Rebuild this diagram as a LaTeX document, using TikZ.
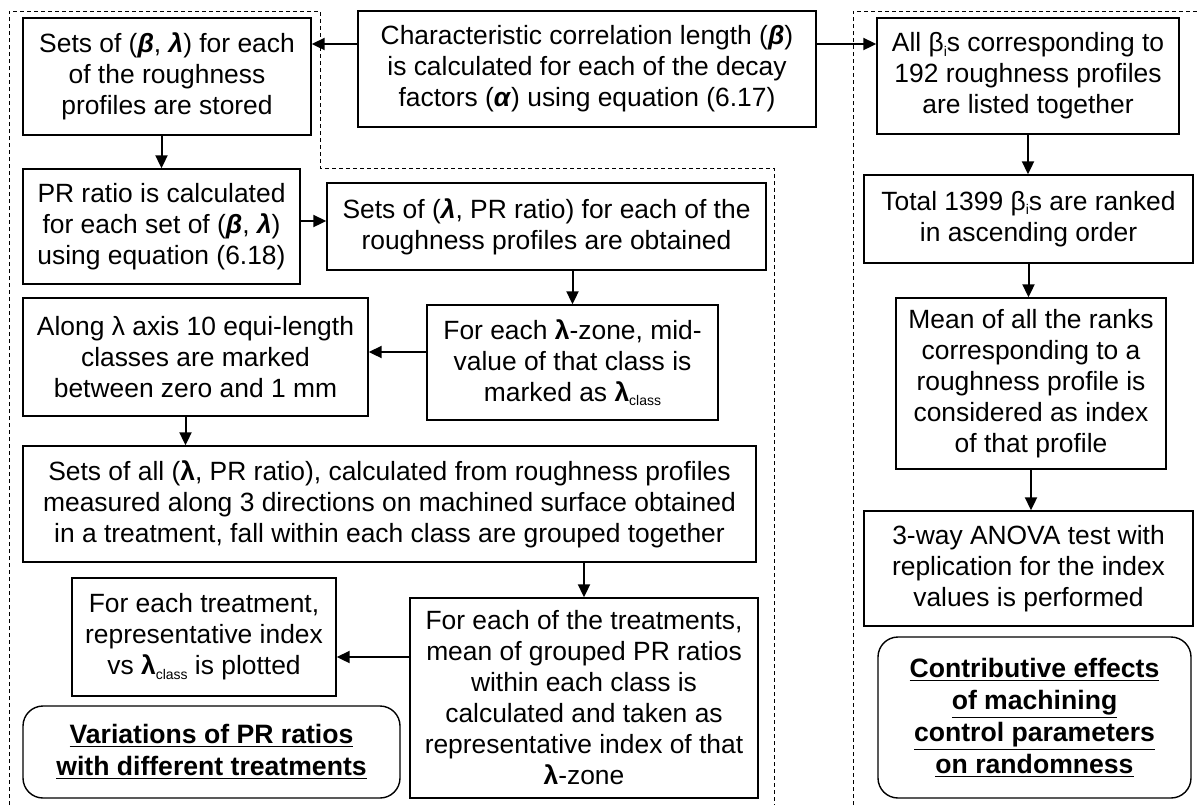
\documentclass[tikz,border=0pt]{standalone}
\usepackage{fontspec}
\setmainfont{Liberation Sans}
\usetikzlibrary{arrows.meta}

\newcommand{\bi}[1]{\textbf{\textit{#1}}}
\newcommand{\betai}{β\raisebox{-.3ex}{\scriptsize i}}
\newcommand{\lcls}{\textbf{λ}\raisebox{-.3ex}{\scriptsize class}}

\begin{document}
\begin{tikzpicture}[x=0.5pt, y=-0.5pt,
        box/.style={draw, line width=0.7pt, align=center, inner sep=2pt,
                font=\fontsize{13.2}{15.5}\selectfont},
        goal/.style={box, rounded corners=10pt, font=\fontsize{13.3}{16}\selectfont\bfseries},
        arr/.style={-{Triangle[length=6.5pt,width=6pt]}, line width=1pt},
        region/.style={line width=0.5pt, dash pattern=on 2pt off 1.5pt}]
        \useasboundingbox (0,0) rectangle (1198,805);

        \draw[region] (9,805) -- (9,11) -- (320,11) -- (320,168) -- (774,168) -- (774,805);
        \draw[region] (853,805) -- (853,11) -- (1198,11);

        \node[box, minimum width=229pt, minimum height=58pt] (corrlen) at (587,69)
                {Characteristic correlation length (\bi{β})\\ is calculated for each of the decay\\ factors (\bi{α}) using equation (6.17)};
        \node[box, minimum width=144pt, minimum height=58.5pt] (setsbl) at (167,76.5)
                {Sets of (\bi{β}, \bi{λ}) for each\\ of the roughness\\ profiles are stored};
        \node[box, minimum width=151pt, minimum height=58pt] (allbeta) at (1028,76)
                {All \betai s corresponding to\\ 192 roughness profiles\\ are listed together};
        \node[box, minimum width=138.5pt, minimum height=57.5pt] (prcalc) at (161.5,226.5)
                {PR ratio is calculated\\ for each set of (\bi{β}, \bi{λ})\\ using equation (6.18)};
        \node[box, minimum width=219.5pt, minimum height=43.5pt] (setslpr) at (546.5,226.5)
                {Sets of (\bi{λ}, PR ratio) for each of the\\ roughness profiles are obtained};
        \node[box, minimum width=145.5pt, minimum height=57.5pt] (zone) at (572.5,362.5)
                {For each \textbf{λ}-zone, mid-\\ value of that class is\\ marked as \lcls};
        \node[box, minimum width=172.5pt, minimum height=59pt] (along) at (195.5,357)
                {Along λ axis 10 equi-length\\ classes are marked\\ between zero and 1 mm};
        \node[box, minimum width=366.5pt, minimum height=58pt] (setsall) at (389.5,504)
                {Sets of all (\textbf{λ}, PR ratio), calculated from roughness profiles\\ measured along 3 directions on machined surface obtained\\ in a treatment, fall within each class are grouped together};
        \node[box, minimum width=174pt, minimum height=100pt] (treatmean) at (584,698)
                {For each of the treatments,\\ mean of grouped PR ratios\\ within each class is\\ calculated and taken as\\ representative index of that\\ \textbf{λ}-zone};
        \node[box, minimum width=132pt, minimum height=59pt] (plotidx) at (204,637)
                {For each treatment,\\ representative index\\ vs \lcls\ is plotted};
        \node[goal, minimum width=188.5pt, minimum height=46pt] (varpr) at (211.5,752)
                {\underline{Variations of PR ratios}\\ \underline{with different treatments}};

        \node[box, minimum width=164.5pt, minimum height=44pt] (rank) at (1028.5,219)
                {Total 1399 \betai s are ranked\\ in ascending order};
        \node[box, minimum width=135pt, minimum height=85.5pt] (meanrank) at (1031,383.5)
                {Mean of all the ranks\\ corresponding to a\\ roughness profile is\\ considered as index\\ of that profile};
        \node[box, minimum width=164.5pt, minimum height=57.5pt] (anova) at (1028.5,568.5)
                {3-way ANOVA test with\\ replication for the index\\ values is performed};
        \node[goal, minimum width=156.5pt, minimum height=80.5pt] (contrib) at (1034.5,717.5)
                {\underline{Contributive effects}\\ \underline{of machining}\\ \underline{control parameters}\\ \underline{on randomness}};

        \draw[arr] (corrlen.west |- 0,44) -- (setsbl.east |- 0,44);
        \draw[arr] (corrlen.east |- 0,44) -- (allbeta.west |- 0,44);
        \draw[arr] (setsbl.south -| prcalc.north) -- (prcalc.north);
        \draw[arr] (prcalc.east |- 0,221) -- (setslpr.west |- 0,221);
        \draw[arr] (setslpr.south -| zone.north) -- (zone.north);
        \draw[arr] (zone.west |- 0,352) -- (along.east |- 0,352);
        \draw[arr] ([xshift=-5pt]along.south) -- ([xshift=-5pt]along.south |- setsall.north);
        \draw[arr] (setsall.south -| treatmean.north) -- (treatmean.north);
        \draw[arr] (treatmean.west |- 0,657) -- (plotidx.east |- 0,657);
        \draw[arr] (allbeta.south) -- (allbeta.south |- rank.north);
        \draw[arr] (rank.south) -- (rank.south |- meanrank.north);
        \draw[arr] (meanrank.south) -- (meanrank.south |- anova.north);
\end{tikzpicture}
\end{document}
